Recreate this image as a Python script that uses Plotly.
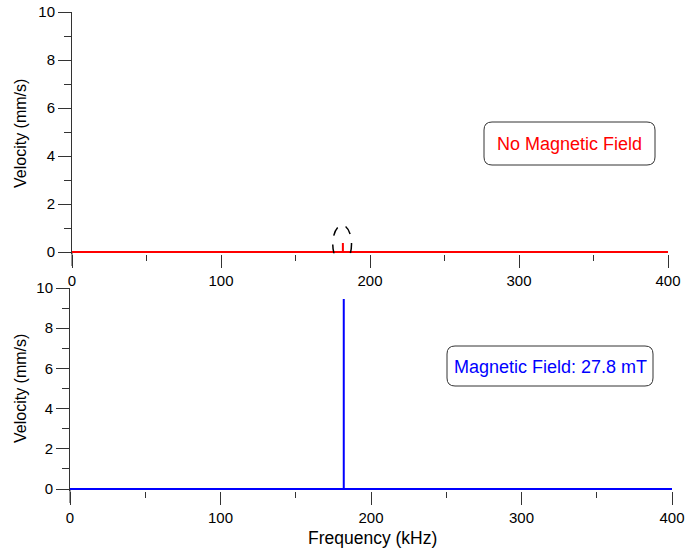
import plotly.graph_objects as go

# ---- data ----
freq_nofield = [0, 181.8, 181.8, 181.8, 364.6, 364.6, 364.6, 400]
vel_nofield = [0, 0, 0.37, 0, 0, 0.03, 0, 0]

freq_field = [0, 181.9, 181.9, 181.9, 364.6, 364.6, 364.6, 400]
vel_field = [0, 0, 9.45, 0, 0, 0.04, 0, 0]

x_ticks = [0, 100, 200, 300, 400]
y_ticks = [0, 2, 4, 6, 8, 10]
label_top = "No Magnetic Field"
label_bot = "Magnetic Field: 27.8 mT"

W, H = 685, 550
def px(x): return x / W
def py(y): return 1 - y / H

FONT = "Arial, Liberation Sans, sans-serif"
AX = "#333333"

fig = go.Figure()
fig.add_trace(go.Scatter(x=freq_nofield, y=vel_nofield, mode="lines",
                         line=dict(color="#ff0000", width=2), xaxis="x", yaxis="y",
                         showlegend=False))
fig.add_trace(go.Scatter(x=freq_field, y=vel_field, mode="lines",
                         line=dict(color="#0000ff", width=2), xaxis="x2", yaxis="y2",
                         showlegend=False))

def xax(domain, anchor):
    return dict(domain=domain, anchor=anchor, range=[0, 400], tickvals=x_ticks,
                showgrid=False, zeroline=False, showline=False,
                ticks="outside", ticklen=13, tickcolor=AX, tickwidth=1, automargin=False,
                minor=dict(dtick=50, ticks="outside", ticklen=6, tickcolor=AX, tickwidth=1),
                tickfont=dict(family=FONT, size=15, color="black"), layer="below traces")

def yax(domain, anchor, rmin):
    return dict(domain=domain, anchor=anchor, range=[rmin, 10], tickvals=y_ticks,
                showgrid=False, zeroline=False, showline=True, linecolor=AX, linewidth=1,
                ticks="outside", ticklen=13, tickcolor=AX, tickwidth=1, automargin=False,
                minor=dict(dtick=1, ticks="outside", ticklen=7, tickcolor=AX, tickwidth=1),
                tickfont=dict(family=FONT, size=15, color="black"), layer="below traces")

fig.update_layout(
    width=W, height=H, margin=dict(l=0, r=0, t=0, b=0, pad=0, autoexpand=False),
    paper_bgcolor="white", plot_bgcolor="white",
    xaxis=xax([px(72), px(668)], "y"),
    yaxis=yax([py(253.5), py(12)], "x", -1.5 / 24),
    xaxis2=xax([px(70), px(672)], "y2"),
    yaxis2=yax([py(490.5), py(288)], "x2", -1.5 / 20.1),
)

def rounded_rect(x0, y0, x1, y1, r):
    rx, ry = r / W, r / H
    X0, X1 = px(x0), px(x1)
    Y0, Y1 = py(y1), py(y0)
    return (f"M {X0+rx},{Y1} L {X1-rx},{Y1} Q {X1},{Y1} {X1},{Y1-ry} "
            f"L {X1},{Y0+ry} Q {X1},{Y0} {X1-rx},{Y0} L {X0+rx},{Y0} "
            f"Q {X0},{Y0} {X0},{Y0+ry} L {X0},{Y1-ry} Q {X0},{Y1} {X0+rx},{Y1} Z")

shapes = [
    dict(type="path", xref="paper", yref="paper", path=rounded_rect(484, 122, 655, 165, 8),
         line=dict(color="#333333", width=1), fillcolor="white", layer="below"),
    dict(type="path", xref="paper", yref="paper", path=rounded_rect(447, 346, 653, 386, 8),
         line=dict(color="#333333", width=1), fillcolor="white", layer="below"),
    dict(type="line", xref="paper", yref="paper", x0=px(72), x1=px(72), y0=py(253), y1=py(266),
         line=dict(color=AX, width=1)),
    dict(type="line", xref="paper", yref="paper", x0=px(70), x1=px(70), y0=py(490), y1=py(503),
         line=dict(color=AX, width=1)),
    dict(type="circle", xref="x", yref="y", x0=175, x1=187.6, y0=-0.46, y1=1.12,
         line=dict(color="black", width=1.5, dash="dash")),
]
fig.update_layout(shapes=shapes)

def ann(text, x, y, size, color, angle=0):
    return dict(text=text, xref="paper", yref="paper", x=px(x), y=py(y),
                xanchor="center", yanchor="middle", textangle=angle,
                showarrow=False, font=dict(family=FONT, size=size, color=color))

annotations = [
    ann(label_top, 569.5, 144, 18, "#ff0000"),
    ann(label_bot, 550, 366.5, 18, "#0000ff"),
    ann("Velocity (mm/s)", 20, 134, 16, "black", -90),
    ann("Velocity (mm/s)", 20, 389, 16, "black", -90),
    ann("Frequency (kHz)", 372, 538, 17.5, "black"),
]
fig.update_layout(annotations=annotations)

fig.write_html("out.html")
